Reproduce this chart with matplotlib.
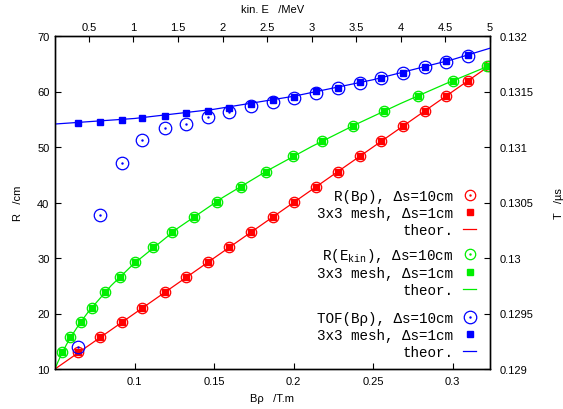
import matplotlib
matplotlib.use('Agg')
import matplotlib.pyplot as plt
from matplotlib.lines import Line2D
from matplotlib.legend import Legend

plt.rcParams['font.family'] = ['Liberation Sans', 'DejaVu Sans']
plt.rcParams['mathtext.fontset'] = 'custom'
plt.rcParams['mathtext.rm'] = 'Liberation Mono'
plt.rcParams['mathtext.it'] = 'Liberation Mono'

# --- data ---
brho = [0.0645, 0.0785, 0.092, 0.105, 0.119, 0.1325, 0.146, 0.1595, 0.173, 0.187,
        0.2005, 0.214, 0.228, 0.2415, 0.255, 0.269, 0.2825, 0.296, 0.3095, 0.323]
radius = [13.0, 15.7, 18.4, 21.0, 23.8, 26.5, 29.3, 32.0, 34.7, 37.4,
          40.1, 42.8, 45.5, 48.3, 51.0, 53.8, 56.5, 59.2, 61.9, 64.6]
ekin = [0.20, 0.29, 0.41, 0.535, 0.68, 0.845, 1.02, 1.215, 1.43, 1.68,
        1.935, 2.205, 2.49, 2.795, 3.12, 3.46, 3.81, 4.19, 4.58, 4.97]
tof_coarse = [0.129195, 0.130385, 0.130856, 0.131066, 0.131174, 0.131210, 0.131270,
              0.131315, 0.131369, 0.131405, 0.131445, 0.131490, 0.131535, 0.131573,
              0.131618, 0.131670, 0.131718, 0.131769, 0.131823]
tof_mesh = [0.131216, 0.131228, 0.131246, 0.131264, 0.131282, 0.131306, 0.131327,
            0.131351, 0.131387, 0.131423, 0.131453, 0.131502, 0.131532, 0.131583,
            0.131622, 0.131669, 0.131723, 0.131772, 0.131832]

# theoretical curves
brho_theor = [0.05, 0.3235]
r_theor_brho = [10.0, 64.7]
e_theor = [0.1197, 0.15, 0.2, 0.25, 0.3, 0.4, 0.5, 0.75, 1.0, 1.5, 2.0, 2.5,
           3.0, 3.5, 4.0, 4.5, 5.0]
r_theor_e = [10.0, 11.19, 12.92, 14.45, 15.83, 18.28, 20.44, 25.03, 28.91, 35.41,
             40.89, 45.72, 50.09, 54.11, 57.86, 61.38, 64.70]
brho_tof_theor = [0.05, 0.1, 0.15, 0.2, 0.25, 0.3, 0.3235]
tof_theor = [0.131207, 0.131257, 0.131340, 0.131457, 0.131606, 0.131788, 0.131890]

xticks = [0.1, 0.15, 0.2, 0.25, 0.3]
yticks = [10, 20, 30, 40, 50, 60, 70]
x2ticks = [0.5, 1, 1.5, 2, 2.5, 3, 3.5, 4, 4.5, 5]
y2ticks = [0.129, 0.1295, 0.13, 0.1305, 0.131, 0.1315, 0.132]

RED, GREEN, BLUE = '#ff0000', '#00ee00', '#0000ff'

fig = plt.figure(figsize=(5.63, 4.10), dpi=100)
ax = fig.add_axes([55 / 563, 40 / 410, 435 / 563, 333 / 410])
ax2 = ax.twiny()   # kinetic energy on top
ax3 = ax.twinx()   # time of flight on the right

# R(B rho)
ax.plot(brho, radius, ls='none', marker='o', mfc='none', mec=RED, ms=7.5, mew=0.9)
ax.plot(brho, radius, ls='none', marker='s', color=RED, ms=4.5)
ax.plot(brho_theor, r_theor_brho, color=RED, lw=0.9)

# R(E_kin)
ax2.plot(ekin, radius, ls='none', marker='o', mfc='none', mec=GREEN, ms=7.5, mew=0.9)
ax2.plot(ekin, radius, ls='none', marker='s', color=GREEN, ms=4.5)
ax2.plot(e_theor, r_theor_e, color=GREEN, lw=0.9)

# TOF(B rho)
ax3.plot(brho[:19], tof_coarse, ls='none', marker='o', mfc='none', mec=BLUE, ms=9, mew=0.9)
ax3.plot(brho[:19], tof_coarse, ls='none', marker='.', color=BLUE, ms=1.5)
ax3.plot(brho[:19], tof_mesh, ls='none', marker='s', color=BLUE, ms=5)
ax3.plot(brho_tof_theor, tof_theor, color=BLUE, lw=0.9)

ax.set_xlim(0.05, 0.3235)
ax.set_ylim(10, 70)
ax2.set_xlim(0.1197, 5.0)
ax3.set_ylim(0.129, 0.132)

ax.set_xticks(xticks, ['%g' % v for v in xticks])
ax.set_yticks(yticks, ['%g' % v for v in yticks])
ax2.set_xticks(x2ticks, ['%g' % v for v in x2ticks])
ax3.set_yticks(y2ticks, ['%g' % v for v in y2ticks])

for a in (ax, ax2, ax3):
    a.tick_params(direction='in', length=4, width=0.8, labelsize=8)
    for s in a.spines.values():
        s.set_linewidth(0.9)
ax.tick_params(axis='x', pad=5)
ax.tick_params(axis='y', pad=4)
ax2.tick_params(axis='x', pad=3)
ax3.tick_params(axis='y', pad=7)

ax.set_xlabel('Bρ   /T.m', fontsize=8)
ax.xaxis.set_label_coords(0.5, -0.087)
ax.xaxis.label.set_va('center')
ax.set_ylabel('R   /cm', fontsize=8)
ax.yaxis.set_label_coords(-0.085, 0.5)
ax.yaxis.label.set_va('center')
ax2.set_xlabel('kin. E   /MeV', fontsize=8)
ax2.xaxis.set_label_coords(0.5, 1.081)
ax2.xaxis.label.set_va('center')
ax3.set_ylabel('T   /µs', fontsize=8)
ax3.yaxis.set_label_coords(1.158, 0.5)
ax3.yaxis.label.set_va('center')


def circ(c, ms):
    return (Line2D([], [], ls='none', marker='o', mfc='none', mec=c, ms=ms, mew=0.9),
            Line2D([], [], ls='none', marker='.', color=c, ms=1.5))


groups = [
    (RED, 'R(Bρ), Δs=10cm', 7.5, 4.5, 0.468),
    (GREEN, 'R(E$_{kin}$), Δs=10cm', 7.5, 4.5, 0.293),
    (BLUE, 'TOF(Bρ), Δs=10cm', 9, 5, 0.103),
]
for c, lab, cms, sms, ypos in groups:
    handles = [circ(c, cms),
               Line2D([], [], ls='none', marker='s', color=c, ms=sms),
               Line2D([], [], color=c, lw=0.9)]
    labels = [lab, '3x3 mesh, Δs=1cm', 'theor.']
    leg = Legend(ax3, handles, labels, loc='center right', bbox_to_anchor=(0.968, ypos),
                 prop={'family': 'Liberation Mono', 'size': 10.3}, markerfirst=False,
                 frameon=False, handlelength=0.9, handletextpad=0.7,
                 labelspacing=0.2, borderpad=0, borderaxespad=0)
    ax3.add_artist(leg)

fig.savefig('out.png', dpi=100)
